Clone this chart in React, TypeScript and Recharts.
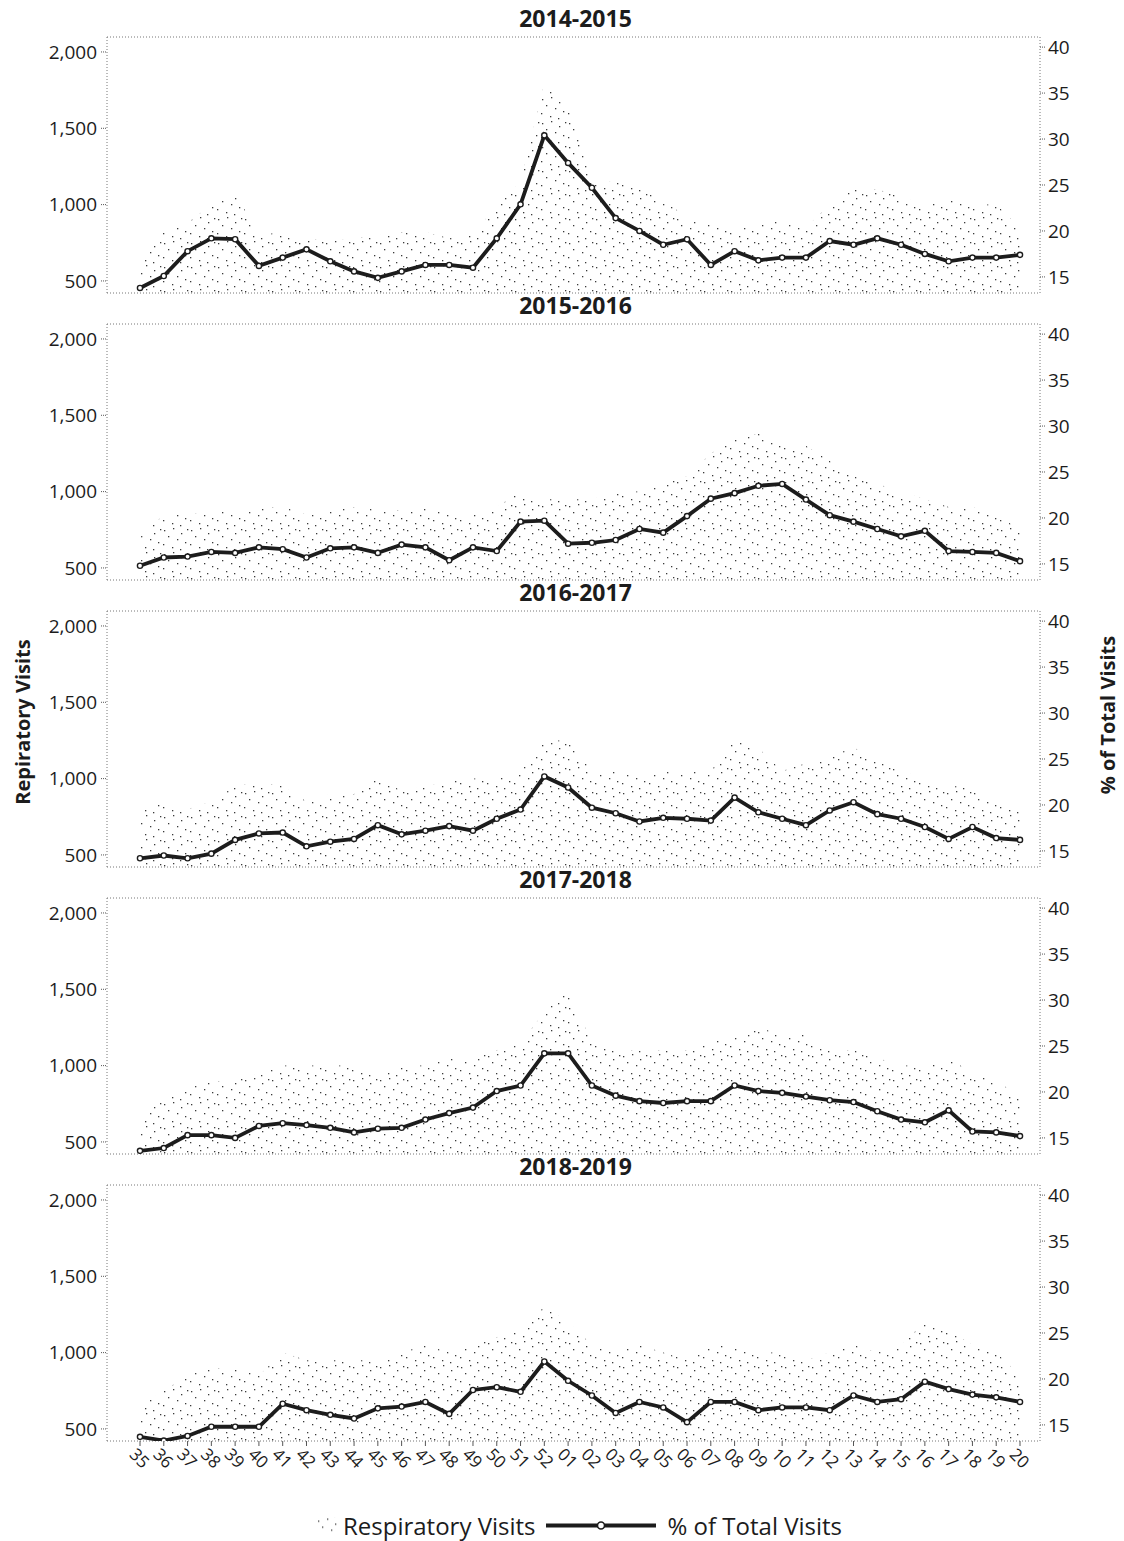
import React from 'react'
import { ComposedChart, Area, Line, XAxis, YAxis, CartesianGrid } from 'recharts'

// ISO weeks of the flu season, week 35 through week 20 of the next year
const weeks = [
  '35', '36', '37', '38', '39', '40', '41', '42', '43', '44', '45', '46', '47', '48', '49', '50', '51', '52',
  '01', '02', '03', '04', '05', '06', '07', '08', '09', '10', '11', '12', '13', '14', '15', '16', '17', '18', '19', '20',
]

const seasons = ['2014-2015', '2015-2016', '2016-2017', '2017-2018', '2018-2019']

// respiratory visits per week
const visits1415 = [650, 820, 880, 1000, 1080, 800, 820, 780, 760, 780, 800, 820, 820, 780, 800, 1000, 1150, 1800, 1650, 1150, 1150, 1100, 1050, 900, 880, 850, 880, 900, 850, 1000, 1100, 1100, 1050, 1000, 1050, 1000, 1000, 850]
const visits1516 = [700, 850, 850, 870, 870, 900, 900, 850, 880, 900, 880, 880, 900, 850, 850, 900, 1000, 950, 950, 950, 1000, 1000, 1050, 1100, 1250, 1350, 1380, 1300, 1300, 1200, 1100, 1050, 1000, 950, 900, 900, 850, 750]
const visits1617 = [800, 850, 800, 850, 950, 980, 950, 850, 900, 900, 1000, 920, 950, 980, 1000, 1000, 1050, 1250, 1250, 1050, 1050, 1000, 1050, 1050, 1050, 1250, 1200, 1050, 1100, 1150, 1200, 1150, 1050, 1000, 950, 950, 850, 800]
const visits1718 = [650, 800, 850, 900, 900, 950, 1000, 1000, 1000, 1000, 950, 1000, 1000, 1050, 1050, 1100, 1150, 1350, 1500, 1150, 1100, 1100, 1100, 1100, 1150, 1200, 1250, 1200, 1200, 1100, 1100, 1050, 1000, 1000, 1050, 950, 900, 800]
const visits1819 = [650, 750, 850, 900, 900, 850, 1000, 950, 950, 950, 950, 1000, 1050, 1000, 1050, 1100, 1150, 1300, 1200, 1050, 1000, 1050, 1000, 950, 1050, 1050, 1000, 1000, 950, 1000, 1050, 1000, 1050, 1200, 1150, 1050, 1000, 850]

// respiratory visits as % of all visits
const pct1415 = [13.8, 15.1, 17.8, 19.2, 19.1, 16.2, 17.1, 18.0, 16.7, 15.6, 14.9, 15.6, 16.3, 16.3, 16.0, 19.2, 22.9, 30.4, 27.4, 24.7, 21.4, 20.0, 18.5, 19.1, 16.3, 17.8, 16.8, 17.1, 17.1, 18.9, 18.5, 19.2, 18.5, 17.5, 16.7, 17.1, 17.1, 17.4]
const pct1516 = [14.8, 15.7, 15.8, 16.3, 16.2, 16.8, 16.6, 15.7, 16.7, 16.8, 16.2, 17.1, 16.8, 15.4, 16.8, 16.4, 19.6, 19.7, 17.2, 17.3, 17.6, 18.8, 18.4, 20.2, 22.1, 22.7, 23.5, 23.7, 22.0, 20.3, 19.6, 18.8, 18.0, 18.6, 16.4, 16.3, 16.2, 15.3]
const pct1617 = [14.2, 14.5, 14.2, 14.7, 16.2, 16.9, 17.0, 15.5, 16.0, 16.3, 17.8, 16.8, 17.2, 17.7, 17.2, 18.5, 19.5, 23.1, 21.9, 19.7, 19.1, 18.2, 18.6, 18.5, 18.3, 20.8, 19.2, 18.5, 17.8, 19.4, 20.3, 19.0, 18.5, 17.6, 16.3, 17.6, 16.4, 16.2]
const pct1718 = [13.6, 13.9, 15.3, 15.3, 15.0, 16.3, 16.6, 16.4, 16.1, 15.6, 16.0, 16.1, 17.0, 17.7, 18.3, 20.1, 20.7, 24.2, 24.2, 20.7, 19.6, 19.0, 18.8, 19.0, 19.0, 20.7, 20.1, 19.9, 19.5, 19.1, 18.9, 17.9, 17.0, 16.7, 18.0, 15.7, 15.6, 15.2]
const pct1819 = [13.7, 13.3, 13.8, 14.8, 14.8, 14.8, 17.3, 16.6, 16.1, 15.7, 16.8, 17.0, 17.5, 16.2, 18.8, 19.1, 18.6, 21.9, 19.8, 18.2, 16.3, 17.5, 16.9, 15.3, 17.5, 17.5, 16.6, 16.9, 16.9, 16.6, 18.2, 17.5, 17.8, 19.7, 18.9, 18.3, 18.0, 17.5]

const visitTicks = [500, 1000, 1500, 2000]
const pctTicks = [15, 20, 25, 30, 35, 40]

const visitsBySeason = [visits1415, visits1516, visits1617, visits1718, visits1819]
const pctBySeason = [pct1415, pct1516, pct1617, pct1718, pct1819]

const FONT = '"Open Sans", "DejaVu Sans", sans-serif'
const INK = '#1c1c1c'
const CHART_W = 1124
const STEP = 287
const PLOT_TOP = 37
const PLOT_H = 256
const LEFT_W = 107
const RIGHT_W = 84

// scattered dots of one stipple tile
const stippleDots = [
  [2, 3], [11, 1], [19, 6], [6, 9], [15, 12], [23, 15], [1, 17], [10, 20], [18, 22], [25, 2],
]

function StippleDefs({ id }: { id: string }) {
  return (
    <defs>
      <pattern id={id} width={27} height={24} patternUnits="userSpaceOnUse">
        {stippleDots.map(([x, y], i) => (
          <rect key={i} x={x} y={y} width={1.3} height={1.3} fill="#3a3a3a" />
        ))}
      </pattern>
    </defs>
  )
}

function WeekTick(props: any) {
  const { x, y, payload } = props
  return (
    <text
      transform={`translate(${x - 7},${y + 3}) rotate(45)`}
      fontSize={17}
      fontFamily={FONT}
      fill={INK}
      dominantBaseline="central"
    >
      {payload.value}
    </text>
  )
}

function SeasonPanel({ index }: { index: number }) {
  const last = index === seasons.length - 1
  const xAxisH = last ? 40 : 0
  const height = PLOT_TOP + PLOT_H + xAxisH + 7
  const rows = weeks.map((w, i) => ({
    week: w,
    visits: visitsBySeason[index][i],
    pct: pctBySeason[index][i],
  }))
  const patternId = `stipple-${index}`

  return (
    <div style={{ position: 'absolute', left: 0, top: index * STEP, width: CHART_W, height }}>
      <div
        style={{
          position: 'absolute',
          left: (LEFT_W + CHART_W - RIGHT_W) / 2 + 2,
          top: 18,
          transform: 'translate(-50%, -50%)',
          fontFamily: FONT,
          fontWeight: 'bold',
          fontSize: 23,
          color: INK,
          whiteSpace: 'nowrap',
        }}
      >
        {seasons[index]}
      </div>
      <ComposedChart
        width={CHART_W}
        height={height}
        data={rows}
        margin={{ top: PLOT_TOP, right: 0, bottom: 7, left: 0 }}
      >
        <StippleDefs id={patternId} />
        <CartesianGrid
          horizontalPoints={[PLOT_TOP, PLOT_TOP + PLOT_H]}
          verticalPoints={[LEFT_W, CHART_W - RIGHT_W]}
          stroke="#777"
          strokeDasharray="1 2"
        />
        <XAxis
          dataKey="week"
          type="category"
          scale="point"
          padding={{ left: 33, right: 20 }}
          hide={!last}
          height={xAxisH}
          axisLine={false}
          tickLine={{ stroke: '#555' }}
          tickSize={5}
          interval={0}
          tick={<WeekTick />}
        />
        <YAxis
          yAxisId="visits"
          orientation="left"
          width={LEFT_W}
          domain={[421, 2098]}
          ticks={visitTicks}
          allowDataOverflow
          tickFormatter={(v: number) => v.toLocaleString('en-US')}
          axisLine={false}
          tickLine={{ stroke: '#555', strokeDasharray: '1 1' }}
          tickSize={6}
          tickMargin={4}
          tick={{ fill: INK, fontSize: 19, fontFamily: FONT }}
        />
        <YAxis
          yAxisId="pct"
          orientation="right"
          width={RIGHT_W}
          domain={[13.25, 41.1]}
          ticks={pctTicks}
          allowDataOverflow
          axisLine={false}
          tickLine={{ stroke: '#555', strokeDasharray: '1 1' }}
          tickSize={5}
          tickMargin={3}
          tick={{ fill: INK, fontSize: 19, fontFamily: FONT }}
        />
        <Area
          yAxisId="visits"
          type="linear"
          dataKey="visits"
          name="Respiratory Visits"
          stroke="none"
          fill={`url(#${patternId})`}
          fillOpacity={1}
          isAnimationActive={false}
        />
        <Line
          yAxisId="pct"
          type="linear"
          dataKey="pct"
          name="% of Total Visits"
          stroke={INK}
          strokeWidth={3.8}
          dot={{ r: 2.6, fill: '#fff', stroke: INK, strokeWidth: 1.4 }}
          isAnimationActive={false}
        />
      </ComposedChart>
    </div>
  )
}

function LegendRow() {
  return (
    <div
      style={{
        position: 'absolute',
        left: 316,
        top: 1525,
        transform: 'translateY(-50%)',
        display: 'flex',
        alignItems: 'center',
        fontFamily: FONT,
        fontSize: 24,
        color: INK,
        whiteSpace: 'nowrap',
      }}
    >
      <svg width={22} height={16} style={{ marginRight: 5 }}>
        <StippleDefs id="stipple-legend" />
        <rect x={0} y={0} width={22} height={16} fill="url(#stipple-legend)" />
      </svg>
      <span>Respiratory Visits</span>
      <svg width={110} height={16} style={{ marginLeft: 10, marginRight: 12 }}>
        <line x1={0} y1={8} x2={110} y2={8} stroke={INK} strokeWidth={3.8} />
        <circle cx={55} cy={8} r={3.5} fill="#fff" stroke={INK} strokeWidth={1.6} />
      </svg>
      <span>% of Total Visits</span>
    </div>
  )
}

export default function App() {
  return (
    <div style={{ position: 'relative', width: CHART_W, height: 1541, background: '#fff' }}>
      <style>{'body{margin:0}'}</style>
      {seasons.map((s, i) => (
        <SeasonPanel key={s} index={i} />
      ))}
      <div
        style={{
          position: 'absolute',
          left: 22,
          top: 722,
          transform: 'translate(-50%, -50%) rotate(-90deg)',
          fontFamily: FONT,
          fontWeight: 'bold',
          fontSize: 20,
          color: INK,
          whiteSpace: 'nowrap',
        }}
      >
        Repiratory Visits
      </div>
      <div
        style={{
          position: 'absolute',
          left: 1107,
          top: 715,
          transform: 'translate(-50%, -50%) rotate(-90deg)',
          fontFamily: FONT,
          fontWeight: 'bold',
          fontSize: 20,
          color: INK,
          whiteSpace: 'nowrap',
        }}
      >
        % of Total Visits
      </div>
      <LegendRow />
    </div>
  )
}
